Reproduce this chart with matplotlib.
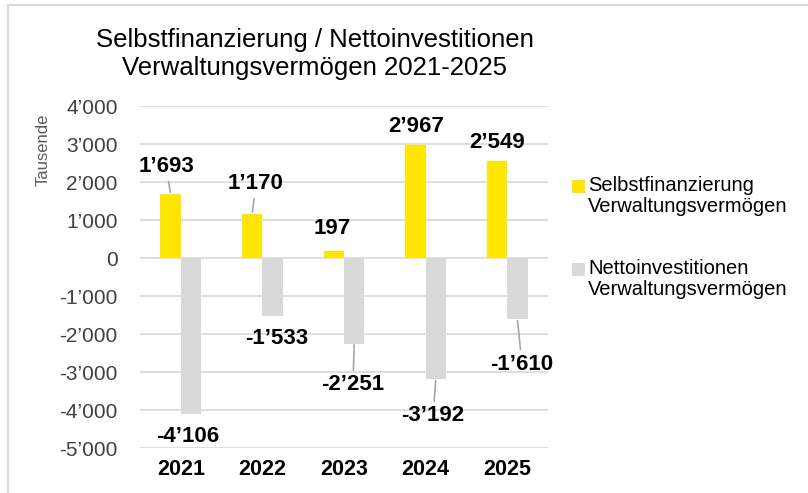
import matplotlib
matplotlib.use("Agg")
import matplotlib.pyplot as plt
from matplotlib.patches import Rectangle
from matplotlib.lines import Line2D
from matplotlib.ticker import FuncFormatter

years = ["2021", "2022", "2023", "2024", "2025"]
selbst = [1693, 1170, 197, 2967, 2549]
netto = [-4106, -1533, -2251, -3192, -1610]
series_names = ["Selbstfinanzierung\nVerwaltungsvermögen",
                "Nettoinvestitionen\nVerwaltungsvermögen"]
title = "Selbstfinanzierung / Nettoinvestitionen\nVerwaltungsvermögen 2021-2025"
y_ticks = [4000, 3000, 2000, 1000, 0, -1000, -2000, -3000, -4000, -5000]

# label placement (x offset from bar, y position in data units, leader line?)
selbst_lbl = [(-0.056, 2400, True), (0.047, 1950, True), (-0.022, 770, False),
              (0.007, 3450, False), (0.0, 3030, False)]
netto_lbl = [(-0.037, -4710, False), (0.054, -2130, False), (-0.015, -3340, True),
             (-0.034, -4155, True), (0.056, -2790, True)]

YELLOW = "#FFE600"
GREY = "#D9D9D9"
LEADER = "#A6A6A6"
plt.rcParams["font.family"] = ["Liberation Sans", "DejaVu Sans"]

def fmt(v):
    s = f"{abs(int(round(v))):,}".replace(",", "\u2019")
    return ("-" if v < 0 else "") + s

fig = plt.figure(figsize=(8.08, 4.93), dpi=100)
ax = fig.add_axes([140 / 808, 1 - 448 / 493, 408 / 808, 342 / 493])

x = list(range(len(years)))
w = 0.25
xs = [i - w / 2 for i in x]
xn = [i + w / 2 for i in x]
ax.bar(xs, selbst, width=w, color=YELLOW, zorder=3)
ax.bar(xn, netto, width=w, color=GREY, zorder=3)

ax.set_xlim(-0.5, 4.5)
ax.set_ylim(-5000, 4000)
ax.set_yticks(y_ticks)
ax.yaxis.set_major_formatter(FuncFormatter(lambda v, p: fmt(v)))
ax.set_xticks(x)
ax.set_xticklabels(years, fontsize=15.5, fontweight="bold")
ax.tick_params(axis="y", length=0, pad=16, labelsize=15, labelcolor="#404040")
ax.tick_params(axis="x", length=0, pad=8)
for s in ax.spines.values():
    s.set_visible(False)
ax.grid(axis="y", color="#D9D9D9", linewidth=1.2, zorder=0)
ax.set_axisbelow(True)

for vals, pos, lbls in ((selbst, xs, selbst_lbl), (netto, xn, netto_lbl)):
    for v, px, (dx, ly, lead) in zip(vals, pos, lbls):
        kw = {}
        if lead:
            kw["arrowprops"] = dict(arrowstyle="-", color=LEADER, lw=1.2,
                                    shrinkA=1, shrinkB=1)
        ax.annotate(fmt(v), xy=(px, v), xytext=(px + dx, ly),
                    ha="center", va="center", fontsize=16, fontweight="bold",
                    color="#000000", **kw)

ax.set_ylabel("Tausende", fontsize=12, color="#595959", labelpad=10)
ax.yaxis.set_label_coords(-0.218, 0.871)

fig.text(315 / 808, 1 - 54 / 493, title, ha="center", va="center",
         fontsize=18.5, linespacing=1.2, color="#000000")

# legend
for i, (name, col) in enumerate(zip(series_names, [YELLOW, GREY])):
    ytop = [180, 263][i]
    fig.add_artist(Rectangle((572 / 808, 1 - (ytop + 13) / 493), 13 / 808, 13 / 493,
                             transform=fig.transFigure, facecolor=col, edgecolor="none"))
    fig.text(588 / 808, 1 - (ytop - 4) / 493, name, ha="left", va="top",
             fontsize=14.5, linespacing=1.15, color="#000000")

# chart border (partially visible)
fig.add_artist(Line2D([8 / 808, 8 / 808], [0, 1 - 5 / 493], transform=fig.transFigure,
                      color="#D9D9D9", lw=1.5))
fig.add_artist(Line2D([8 / 808, 1], [1 - 5 / 493, 1 - 5 / 493], transform=fig.transFigure,
                      color="#D9D9D9", lw=1.5))

fig.savefig("out.png", dpi=100)
